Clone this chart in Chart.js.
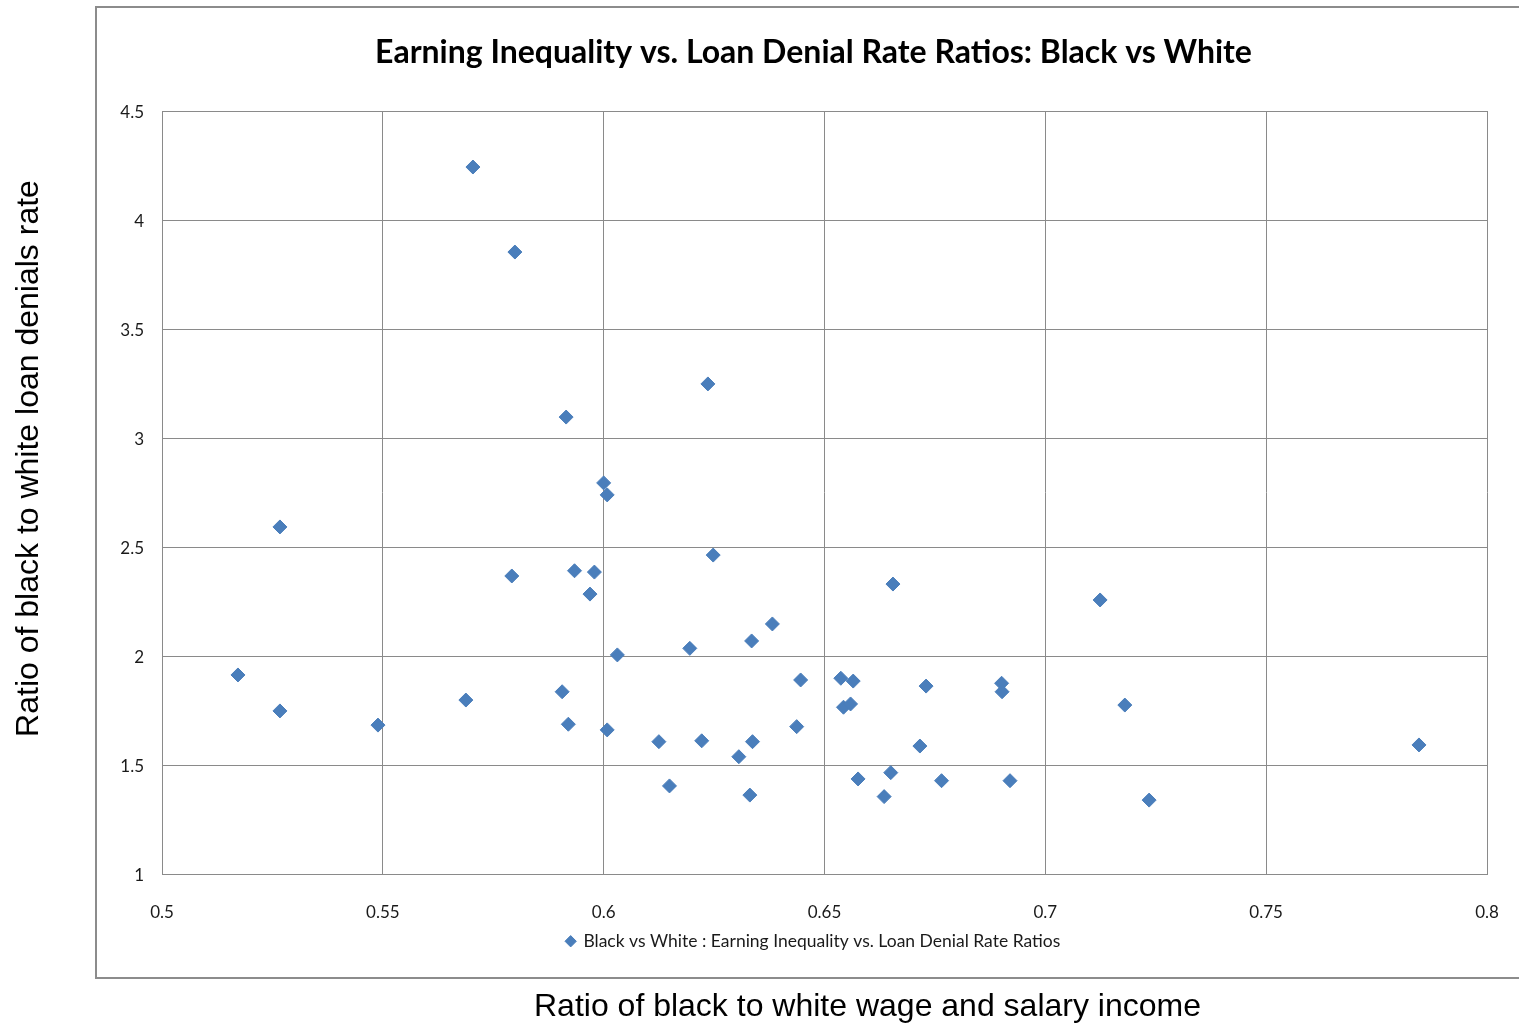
<!DOCTYPE html>
<html>
<head>
<meta charset="utf-8">
<script src="https://cdn.jsdelivr.net/npm/chart.js@4.4.1/dist/chart.umd.min.js"></script>
<style>
  html, body { margin: 0; padding: 0; background: #fff; overflow: hidden; }
  #wrap { width: 1519px; height: 1027px; }
</style>
</head>
<body>
<div id="wrap"><canvas id="c" width="1519" height="1027"></canvas></div>
<script>
// Ratio of black to white wage and salary income (x) per observation
const wageRatio = [
  0.5704, 0.5799, 0.6236, 0.5915, 0.6000, 0.6008, 0.5267, 0.6248, 0.5792, 0.5934,
  0.5979, 0.5969, 0.6655, 0.7124, 0.6382, 0.6335, 0.6195, 0.6031, 0.5172, 0.6446,
  0.6537, 0.6565, 0.6730, 0.6901, 0.6902, 0.5906, 0.5688, 0.6543, 0.6559, 0.7180,
  0.5267, 0.5489, 0.5920, 0.6008, 0.6437, 0.6125, 0.6222, 0.6337, 0.6716, 0.7846,
  0.6306, 0.6650, 0.6576, 0.6765, 0.6920, 0.6149, 0.6331, 0.6635, 0.7235
];
// Ratio of black to white loan denial rates (y) per observation
const denialRatio = [
  4.243, 3.853, 3.248, 3.096, 2.794, 2.739, 2.592, 2.463, 2.367, 2.391,
  2.385, 2.284, 2.330, 2.257, 2.147, 2.069, 2.035, 2.005, 1.913, 1.890,
  1.898, 1.885, 1.862, 1.875, 1.836, 1.836, 1.798, 1.765, 1.780, 1.775,
  1.748, 1.683, 1.687, 1.661, 1.676, 1.607, 1.611, 1.607, 1.587, 1.592,
  1.538, 1.465, 1.436, 1.428, 1.428, 1.404, 1.362, 1.355, 1.339
];
const xTicks = [0.5, 0.55, 0.6, 0.65, 0.7, 0.75, 0.8];
const yTicks = [1, 1.5, 2, 2.5, 3, 3.5, 4, 4.5];

const chartTitle = 'Earning Inequality vs. Loan Denial Rate Ratios: Black vs White';
const seriesName = 'Black vs White : Earning Inequality vs. Loan Denial Rate Ratios';
const xAxisTitle = 'Ratio of black to white wage and salary income';
const yAxisTitle = 'Ratio of black to white loan denials rate';

const points = wageRatio.map((x, i) => ({ x: x, y: denialRatio[i] }));

const GRID = '#8a8a8a';
const TICK_FONT = { family: 'Lato, "Open Sans", sans-serif', size: 17 };
const FRAME_LEFT = 96;   // left edge of the outer frame
const BLOCK_LEFT = 140;  // title and legend are centred between here and the plot's right edge

// Outer frame around title, plot and legend; axis captions sit outside it.
const framePlugin = {
  id: 'frame',
  afterLayout(chart) {
    if (chart.titleBlock) chart.titleBlock.left = BLOCK_LEFT;
    if (chart.legend) chart.legend.left = BLOCK_LEFT;
  },
  beforeDraw(chart) {
    const ctx = chart.ctx;
    ctx.save();
    ctx.fillStyle = '#ffffff';
    ctx.fillRect(0, 0, chart.width, chart.height);
    ctx.strokeStyle = '#8c8c8c';
    ctx.lineWidth = 2;
    ctx.strokeRect(FRAME_LEFT, 7, chart.width + 20, 971);
    ctx.restore();
  },
  afterDraw(chart) {
    const ctx = chart.ctx;
    ctx.save();
    ctx.fillStyle = '#000000';
    ctx.font = '32px "Liberation Sans", Arial, sans-serif';
    ctx.textAlign = 'center';
    ctx.textBaseline = 'middle';
    ctx.fillText(xAxisTitle, 867.5, 1007);
    ctx.translate(29, 458.5);
    ctx.rotate(-Math.PI / 2);
    ctx.fillText(yAxisTitle, 0, 0);
    ctx.restore();
  }
};

new Chart(document.getElementById('c'), {
  type: 'scatter',
  data: {
    datasets: [{
      label: seriesName,
      data: points,
      pointStyle: 'rectRot',
      pointRadius: 7,
      pointHoverRadius: 7,
      backgroundColor: '#4A7EBB',
      borderColor: '#4A7EBB',
      borderWidth: 1
    }]
  },
  options: {
    responsive: false,
    animation: false,
    events: [],
    layout: { padding: { left: 0, right: 32, top: 0, bottom: 67 } },
    plugins: {
      tooltip: { enabled: false },
      title: {
        display: true,
        text: chartTitle,
        color: '#000000',
        font: { family: 'Lato, sans-serif', weight: 'bold', size: 32 },
        padding: { top: 33.5, bottom: 39.1 }
      },
      legend: {
        position: 'bottom',
        labels: {
          usePointStyle: true,
          pointStyle: 'rectRot',
          boxWidth: 8,
          boxHeight: 8,
          padding: 10,
          color: '#1a1a1a',
          font: { family: 'Lato, sans-serif', size: 17.5 }
        }
      }
    },
    scales: {
      x: {
        type: 'linear',
        min: 0.5,
        max: 0.8,
        afterBuildTicks(scale) { scale.ticks = xTicks.map(v => ({ value: v })); },
        afterFit(scale) {
          scale.height = 48.5;
          scale.paddingLeft = 0;
          scale.paddingRight = 0;
        },
        ticks: {
          autoSkip: false,
          maxRotation: 0,
          padding: 28,
          color: '#1a1a1a',
          font: TICK_FONT,
          callback: v => String(v)
        },
        grid: { color: GRID, lineWidth: 1, drawTicks: false },
        border: { display: true, color: GRID, width: 1 }
      },
      y: {
        type: 'linear',
        min: 1,
        max: 4.5,
        afterBuildTicks(scale) { scale.ticks = yTicks.map(v => ({ value: v })); },
        afterFit(scale) {
          scale.width = 162;
          scale.paddingTop = 0;
          scale.paddingBottom = 0;
        },
        ticks: {
          autoSkip: false,
          padding: 18,
          labelOffset: 2,
          color: '#1a1a1a',
          font: TICK_FONT,
          callback: v => String(v)
        },
        grid: { color: GRID, lineWidth: 1, drawTicks: false },
        border: { display: true, color: GRID, width: 1 }
      }
    }
  },
  plugins: [framePlugin]
});
</script>
</body>
</html>
